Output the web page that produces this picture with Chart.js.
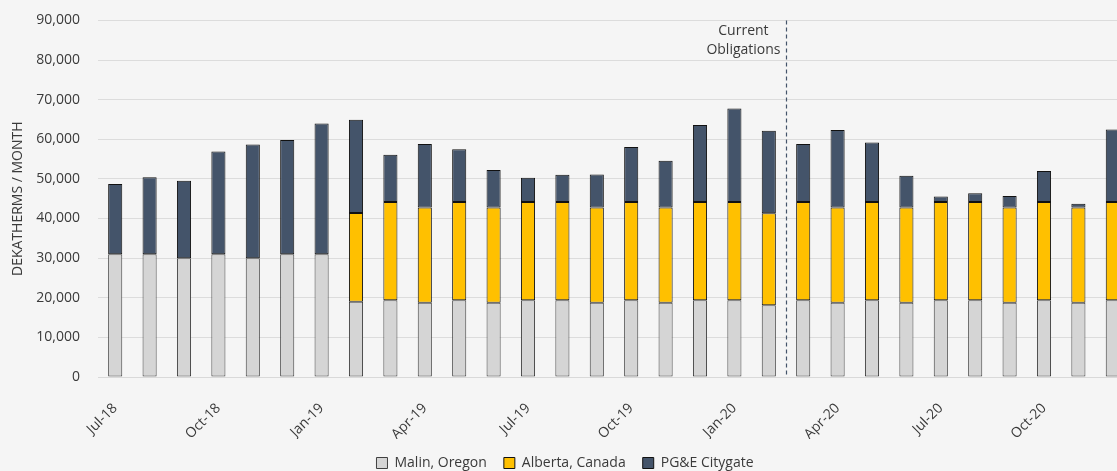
<!DOCTYPE html>
<html><head><meta charset="utf-8">
<script src="https://cdn.jsdelivr.net/npm/chart.js@4.4.1/dist/chart.umd.min.js"></script>
<style>
html,body{margin:0;padding:0;background:#f5f5f5;overflow:hidden;}
#wrap{width:1140px;height:477px;margin-top:-6px;}
</style>
</head><body>
<div id="wrap"><canvas id="c" width="1140" height="477"></canvas></div>
<script>
const months = ['Jul-18','Aug-18','Sep-18','Oct-18','Nov-18','Dec-18','Jan-19','Feb-19','Mar-19','Apr-19','May-19','Jun-19','Jul-19','Aug-19','Sep-19','Oct-19','Nov-19','Dec-19','Jan-20','Feb-20','Mar-20','Apr-20','May-20','Jun-20','Jul-20','Aug-20','Sep-20','Oct-20','Nov-20','Dec-20'];
const malinOregon = [31000,31000,30000,31000,30000,31000,31000,19000,19375,18750,19375,18750,19375,19375,18750,19375,18750,19375,19375,18125,19375,18750,19375,18750,19375,19375,18750,19375,18750,19375];
const albertaCanada = [null,null,null,null,null,null,null,22400,24800,24000,24800,24000,24800,24800,24000,24800,24000,24800,24800,23200,24800,24000,24800,24000,24800,24800,24000,24800,24000,24800];
const pgeCitygate = [17700,19400,19500,25900,28650,28800,33000,23500,11900,16050,13300,9500,6100,6900,8350,13900,11850,19400,23600,20800,14600,19600,15000,8050,1400,2200,2950,7800,950,18300];
const seriesNames = ['Malin, Oregon','Alberta, Canada','PG&E Citygate'];
const yTickMax = 90000;
const yTickStep = 10000;
const obligationsAfter = 'Feb-20';
const obligationsText = ['Current','Obligations'];

const FONT = "'Open Sans', 'Noto Sans', sans-serif";
const TXT = '#3a3a3a';

const obligationPlugin = {
  id: 'obligations',
  afterDatasetsDraw(chart) {
    const x = chart.scales.x, ca = chart.chartArea, ctx = chart.ctx;
    const i = months.indexOf(obligationsAfter);
    const px = Math.round((x.getPixelForValue(i) + x.getPixelForValue(i + 1)) / 2) + 0.5;
    ctx.save();
    ctx.strokeStyle = '#44546A';
    ctx.lineWidth = 1.2;
    ctx.setLineDash([4, 3]);
    ctx.beginPath();
    ctx.moveTo(px, ca.top);
    ctx.lineTo(px, ca.bottom);
    ctx.stroke();
    ctx.setLineDash([]);
    ctx.font = '14px ' + FONT;
    ctx.fillStyle = TXT;
    ctx.textAlign = 'center';
    ctx.textBaseline = 'alphabetic';
    const w = Math.max(...obligationsText.map(t => ctx.measureText(t).width));
    const cx = px - 6 - w / 2;
    ctx.fillText(obligationsText[0], cx, ca.top + 15);
    ctx.fillText(obligationsText[1], cx, ca.top + 34);
    ctx.restore();
  }
};

new Chart(document.getElementById('c'), {
  type: 'bar',
  data: {
    labels: months,
    datasets: [
      { label: seriesNames[0], data: malinOregon, backgroundColor: '#d5d5d5', borderColor: '#404040', borderWidth: 1, borderSkipped: false },
      { label: seriesNames[1], data: albertaCanada, backgroundColor: '#FFC000', borderColor: '#111111', borderWidth: 1, borderSkipped: false },
      { label: seriesNames[2], data: pgeCitygate, backgroundColor: '#44546A', borderColor: '#111111', borderWidth: 1, borderSkipped: false }
    ]
  },
  options: {
    responsive: false,
    animation: false,
    datasets: { bar: { categoryPercentage: 1, barPercentage: 0.41 } },
    layout: { padding: { left: 0, right: 10, top: 6, bottom: -9 } },
    plugins: {
      tooltip: { enabled: false },
      legend: {
        position: 'bottom',
        labels: { boxWidth: 11, boxHeight: 11, padding: 17, color: TXT, font: { family: FONT, size: 14 } }
      }
    },
    scales: {
      x: {
        stacked: true,
        afterFit(scale) { scale.height = 62; },
        grid: { display: false },
        border: { display: true, color: '#d9d9d9', width: 1 },
        ticks: {
          autoSkip: false, maxRotation: 45, minRotation: 45, padding: 15,
          color: TXT, font: { family: FONT, size: 14 },
          callback: function(v, i) { return i % 3 === 0 ? months[i] : ''; }
        }
      },
      y: {
        stacked: true,
        min: 0, max: yTickMax,
        afterFit(scale) { scale.width = 98; },
        grid: { color: '#dcdcdc', lineWidth: 1, drawTicks: false },
        border: { display: false },
        title: { display: true, text: 'DEKATHERMS / MONTH', color: TXT, font: { family: FONT, size: 14 }, padding: { top: 10, bottom: 0 } },
        ticks: {
          stepSize: yTickStep, padding: 18, color: TXT, font: { family: FONT, size: 14 },
          callback: v => v.toLocaleString('en-US')
        }
      }
    }
  },
  plugins: [obligationPlugin]
});
</script>
</body></html>
